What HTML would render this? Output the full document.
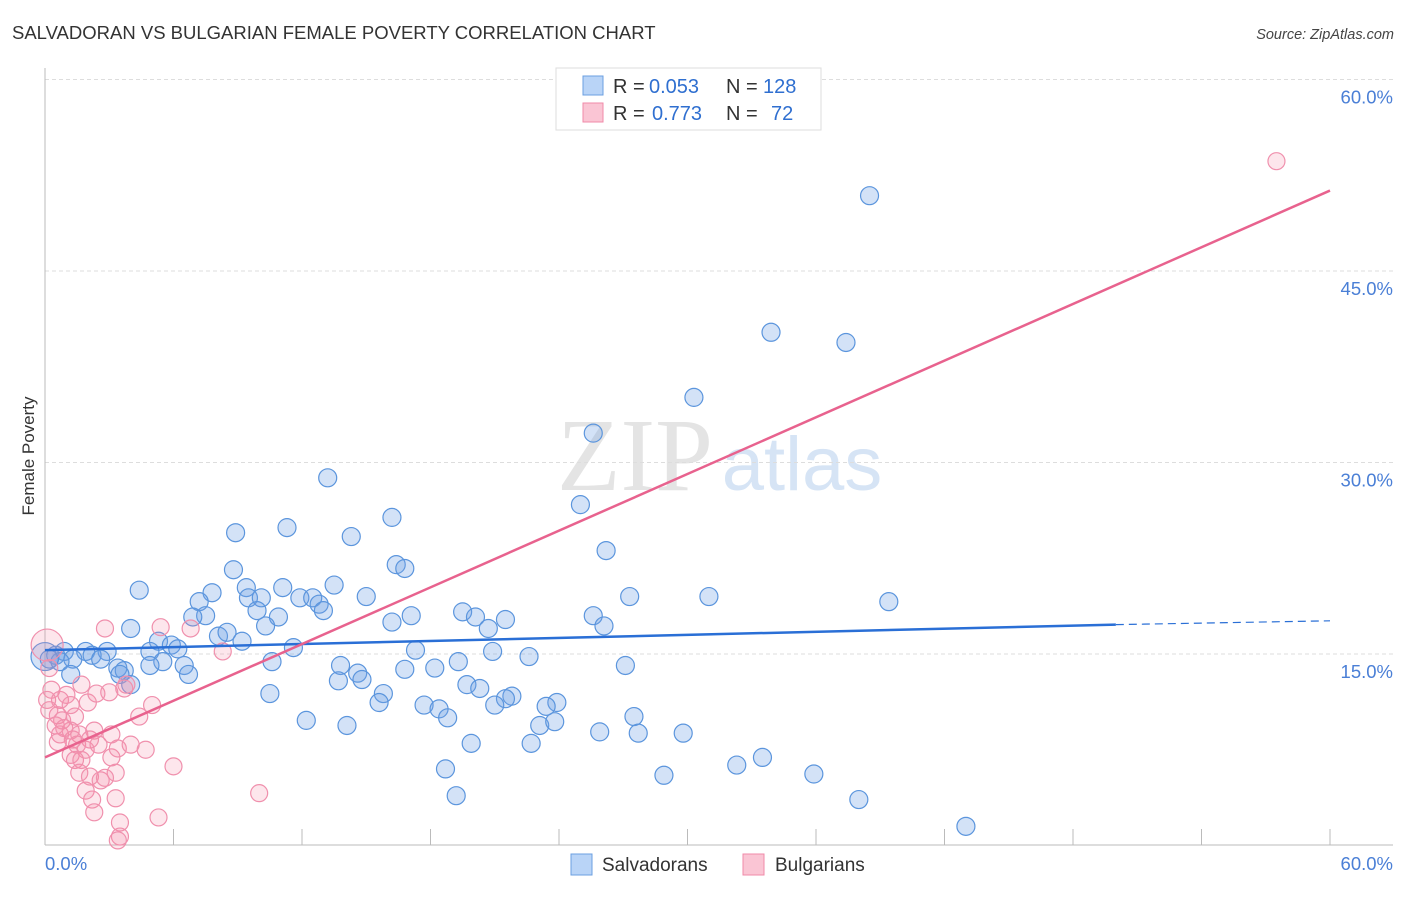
<!DOCTYPE html>
<html><head><meta charset="utf-8"><style>
body{margin:0;background:#fff;font-family:"Liberation Sans",sans-serif;}
svg text{font-family:"Liberation Sans",sans-serif;}
</style></head><body>
<svg id="chart" width="1406" height="892" viewBox="0 0 1406 892" xmlns="http://www.w3.org/2000/svg">
<text x="12" y="39" font-size="18.5" fill="#333">SALVADORAN VS BULGARIAN FEMALE POVERTY CORRELATION CHART</text>
<text x="1394" y="39" font-size="14.5" fill="#444" text-anchor="end" font-style="italic">Source: ZipAtlas.com</text>
<text x="34" y="456" font-size="17" fill="#333" text-anchor="middle" transform="rotate(-90 34 456)">Female Poverty</text>
<g>
<text x="635" y="490" font-size="104" fill="#e4e4e4" text-anchor="middle" style="font-family:'Liberation Serif',serif">ZIP</text>
<text x="802" y="490" font-size="76" fill="#d6e4f5" text-anchor="middle">atlas</text>
</g>
<g id="grid"></g><g id="axes"></g><g id="blue"></g><g id="pink"></g><g id="lines"></g>
<g>
<rect x="556" y="68" width="265" height="62" fill="#fff" stroke="#ddd"/>
<rect x="583" y="76" width="20" height="19" fill="#b9d4f7" stroke="#6b9fe0"/>
<text x="613" y="93" font-size="20" fill="#333">R =</text>
<text x="649" y="93" font-size="20" fill="#2f6fd0">0.053</text>
<text x="726" y="93" font-size="20" fill="#333">N =</text>
<text x="763" y="93" font-size="20" fill="#2f6fd0">128</text>
<rect x="583" y="103" width="20" height="19" fill="#fac5d4" stroke="#f08aa8"/>
<text x="613" y="120" font-size="20" fill="#333">R =</text>
<text x="652" y="120" font-size="20" fill="#2f6fd0">0.773</text>
<text x="726" y="120" font-size="20" fill="#333">N =</text>
<text x="771" y="120" font-size="20" fill="#2f6fd0">72</text>
</g>
<g>
<rect x="571" y="854" width="21" height="21" fill="#b9d4f7" stroke="#6b9fe0"/>
<text x="602" y="871" font-size="19" fill="#333">Salvadorans</text>
<rect x="743" y="854" width="21" height="21" fill="#fac5d4" stroke="#f08aa8"/>
<text x="775" y="871" font-size="19" fill="#333">Bulgarians</text>
</g>
</svg>
<script>
const yTicks=[15,30,45,60];
const yTickLabels=["15.0%","30.0%","45.0%","60.0%"];
const xTicks=[0,6,12,18,24,30,36,42,48,54,60];
const blueX=[0,38.5,33.9,37.4,30.3,25.6,13.2,25.0,16.2,8.9,11.3,14.3,26.2,16.4,16.8,8.8,4.4,13.5,11.1,9.4,7.8,27.3,31.0,15.0,9.5,10.1,11.9,12.5,12.8,13.0,7.2,19.5,20.1,39.4,25.6,17.1,7.5,6.9,9.9,10.9,21.5,26.1,20.7,4.0,16.2,10.3,8.1,8.5,9.2,5.3,5.9,6.2,4.9,11.6,17.3,20.9,2.9,1.9,0.9,0.5,2.2,2.6,1.3,0.7,0.2,22.6,19.3,5.5,6.5,10.6,27.1,13.8,4.9,16.8,18.2,3.4,3.7,1.2,3.5,6.7,14.6,13.7,14.8,4.0,19.7,20.3,15.8,10.5,15.6,21.8,21.5,21.0,17.7,18.4,23.9,23.4,12.2,18.8,23.1,23.8,27.5,14.1,25.9,27.7,29.8,19.9,22.7,18.7,28.9,32.3,33.5,35.9,38.0,19.2,43.0];
const blueY=[14.8,50.9,40.2,39.4,35.1,32.3,28.8,26.7,25.7,24.5,24.9,24.2,23.1,22.0,21.7,21.6,20.0,20.4,20.2,20.2,19.8,19.5,19.5,19.5,19.4,19.4,19.4,19.4,18.9,18.4,19.1,18.3,17.9,19.1,18.0,18.0,18.0,17.9,18.4,17.9,17.7,17.2,17.0,17.0,17.5,17.2,16.4,16.7,16.0,16.0,15.7,15.4,15.2,15.5,15.3,15.2,15.2,15.2,15.2,14.9,14.9,14.6,14.6,14.4,14.6,14.8,14.4,14.4,14.1,14.4,14.1,14.1,14.1,13.8,13.9,13.9,13.7,13.4,13.4,13.4,13.5,12.9,13.0,12.6,12.6,12.3,11.9,11.9,11.2,11.7,11.5,11.0,11.0,10.7,11.2,10.9,9.8,10.0,9.4,9.7,10.1,9.4,8.9,8.8,8.8,8.0,8.0,6.0,5.5,6.3,6.9,5.6,3.6,3.9,1.5];
const pinkX=[0.1,57.5,2.8,5.4,6.8,8.3,0.2,0.3,0.1,0.7,1.0,1.7,2.0,0.6,0.8,1.4,2.4,3.0,3.8,5.0,4.4,3.7,0.5,0.7,1.2,1.6,2.3,2.5,1.3,1.5,1.9,1.2,1.4,1.7,1.6,2.1,2.6,3.3,3.1,3.4,4.0,4.7,6.0,1.9,2.2,2.3,2.8,3.3,3.5,3.5,3.4,5.3,10.0,0.9,0.6,0.2,1.2,2.1,3.1];
const pinkY=[15.7,53.6,17.0,17.1,17.0,15.2,13.9,12.2,11.4,11.4,11.8,12.6,11.2,10.2,9.8,10.1,11.9,12.0,12.6,11.0,10.1,12.3,9.4,8.7,9.0,8.7,9.0,7.9,8.3,7.9,7.5,7.1,6.7,6.7,5.7,5.4,5.1,5.7,6.9,7.6,7.9,7.5,6.2,4.3,3.6,2.6,5.3,3.7,1.8,0.7,0.4,2.2,4.1,9.2,8.1,10.6,11.0,8.3,8.7];
const blueTrend=[[0,15.3],[50,17.3],[60,17.6]];
const pinkTrend=[[0,6.9],[60,51.3]];
const X0=45,X1=1330,Y0=845.5,Y60=79.5;
const sx=v=>X0+(X1-X0)*v/60;
const sy=v=>Y0-(Y0-Y60)*v/60;
const NS="http://www.w3.org/2000/svg";
function mk(tag,parent,attrs){const e=document.createElementNS(NS,tag);for(const k in attrs)e.setAttribute(k,attrs[k]);document.getElementById(parent).appendChild(e);return e;}
yTicks.forEach((t,i)=>{
 const g=mk('line','grid',{x1:45,x2:1393,y1:sy(t),y2:sy(t),stroke:'#ddd','stroke-dasharray':'4 3'});
 
 
 const l=mk('text','grid',{x:1393,y:sy(t)+24,'font-size':18.5,fill:'#4a7fd6','text-anchor':'end'});
 l.textContent=yTickLabels[i];
 
 
});
const ax=mk('line','axes',{x1:45,x2:45,y1:68,y2:845,stroke:'#bbb'});


const bx=mk('line','axes',{x1:45,x2:1393,y1:845,y2:845,stroke:'#bbb'});


xTicks.forEach(t=>{
 const k=mk('line','axes',{x1:sx(t),x2:sx(t),y1:845,y2:829,stroke:'#bbb'});
 
 
});
const xl0=mk('text','axes',{x:45,y:870,'font-size':18.5,fill:'#4a7fd6'});xl0.textContent='0.0%';


const xl1=mk('text','axes',{x:1393,y:870,'font-size':18.5,fill:'#4a7fd6','text-anchor':'end'});xl1.textContent='60.0%';


blueX.forEach((v,i)=>{
 const c=mk('circle','blue',{cx:sx(v),cy:sy(blueY[i]),r:i==0?14:9,fill:'rgba(110,160,230,0.3)',stroke:'#5b95dd','stroke-width':1.2});
 
 
});
pinkX.forEach((v,i)=>{
 const c=mk('circle','pink',{cx:sx(v),cy:sy(pinkY[i]),r:i==0?16:8.5,fill:'rgba(245,140,170,0.22)',stroke:'#f090ad','stroke-width':1.2});
 
 
});
const bl=mk('line','lines',{x1:sx(blueTrend[0][0]),y1:sy(blueTrend[0][1]),x2:sx(blueTrend[1][0]),y2:sy(blueTrend[1][1]),stroke:'#2a6fd6','stroke-width':2.5});


const bd=mk('line','lines',{x1:sx(blueTrend[1][0]),y1:sy(blueTrend[1][1]),x2:sx(blueTrend[2][0]),y2:sy(blueTrend[2][1]),stroke:'#2a6fd6','stroke-width':1.2,'stroke-dasharray':'8 5'});


const pl=mk('line','lines',{x1:sx(pinkTrend[0][0]),y1:sy(pinkTrend[0][1]),x2:sx(pinkTrend[1][0]),y2:sy(pinkTrend[1][1]),stroke:'#e8628e','stroke-width':2.5});


</script>
</body></html>
